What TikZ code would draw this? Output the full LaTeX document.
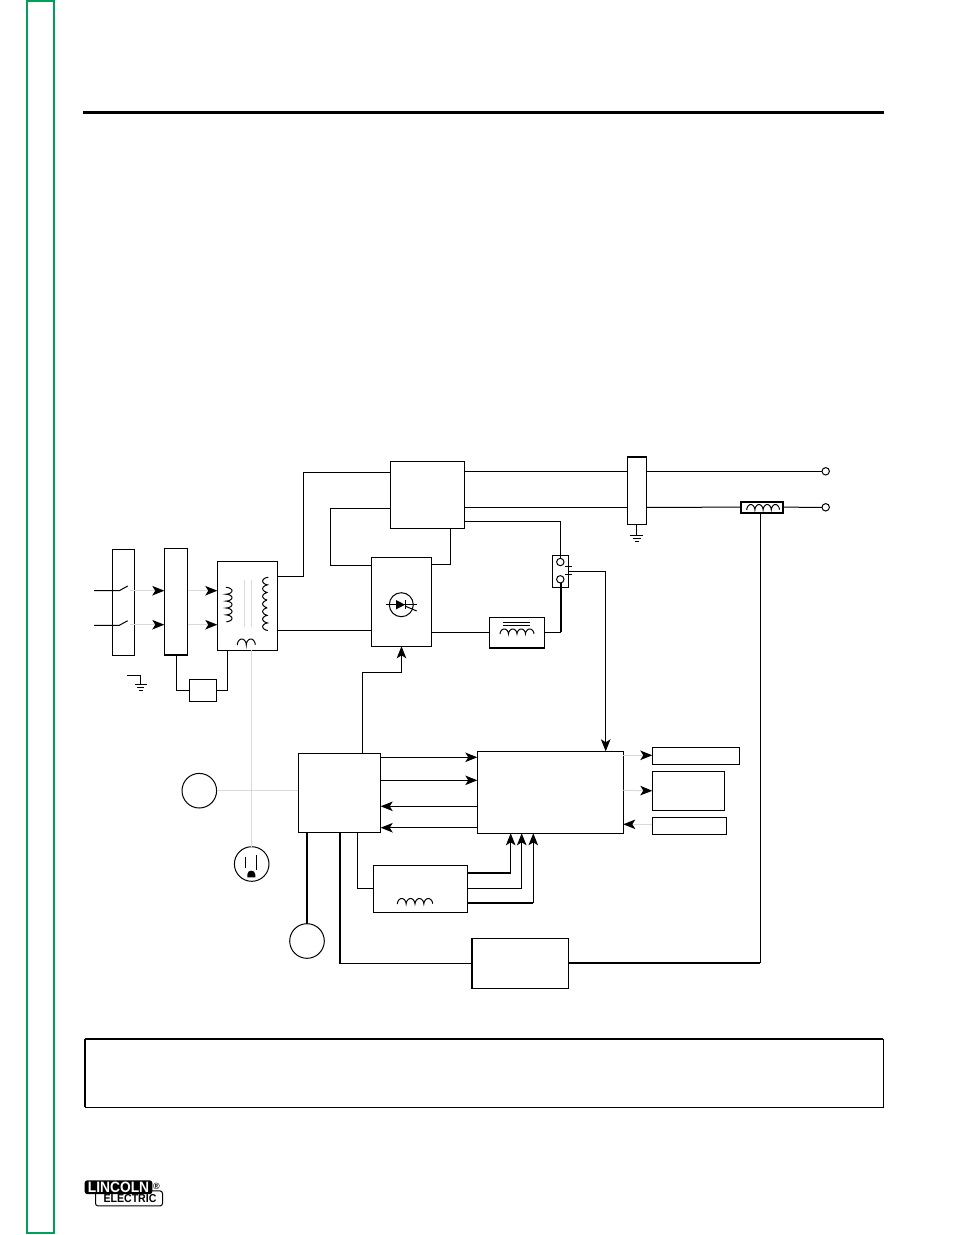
\documentclass[tikz,border=0pt]{standalone}
\usepackage{fontspec}
\setmainfont{Liberation Sans}
\usetikzlibrary{arrows.meta}
\definecolor{tabgreen}{HTML}{00A05A}
\definecolor{faint}{HTML}{D9D9D9}
\newcommand{\coilh}[5]{\draw[coil line] plot[domain=0:#5,samples=121] ({#1+\x*#3},{#2-#4*sqrt(abs(sin(180*\x)))});}
\newcommand{\coilv}[5]{\draw[coil line] plot[domain=0:#5,samples=121] ({#1+#4*sqrt(abs(sin(180*\x)))},{#2+\x*#3});}
\newcommand{\gndbars}[3]{\draw (#1-#3,#2) -- (#1+#3,#2) (#1-#3*.6,#2+3) -- (#1+#3*.6,#2+3) (#1-#3*.3,#2+6) -- (#1+#3*.3,#2+6);}
\tikzset{
  blk/.style={draw,rectangle,inner sep=0pt,outer sep=0pt,line width=1pt,fill=white},
  ring/.style={draw,circle,inner sep=0pt,outer sep=0pt,line width=1pt,fill=white},
  coil line/.style={line width=1pt},
  heavy/.style={line width=2pt},
  tip/.style={-{Stealth[length=12pt,width=9.5pt,inset=3pt,color=black]}},
  faintline/.style={faint,line width=1pt},
}
\begin{document}
\begin{tikzpicture}[x=1pt,y=-1pt,line width=1pt]
  \useasboundingbox (0,0) rectangle (954,1235);

  % page furniture
  \node[draw=tabgreen,line width=2pt,inner sep=0pt,outer sep=0pt,minimum width=27.3pt,minimum height=1232.3pt] (tab) at (40.3,617.2) {};
  \coordinate (ruleL) at (83,112.5);
  \coordinate (ruleR) at (884,112.5);
  \draw[line width=3pt] (ruleL) -- (ruleR);
  \node[blk,minimum width=798.4pt,minimum height=68.3pt] (note) at (484.2,1073.2) {};
  \draw[heavy] (note.north west) -- (note.north east);
  \draw[line width=1.5pt] (note.north west) -- (note.south west);

  % input side
  \node[blk,minimum width=22pt,minimum height=106pt] (sw) at (123.3,602.3) {};
  \node[blk,minimum width=23.4pt,minimum height=106.4pt] (recon) at (176,601.5) {};
  \node[blk,minimum width=60pt,minimum height=88.7pt] (xfmr) at (247.3,605.7) {};
  \node[blk,minimum width=27.4pt,minimum height=22pt] (cb) at (203,690.3) {};

  % power stage
  \node[blk,minimum width=74pt,minimum height=67pt] (bridge) at (427.3,494.8) {};
  \node[blk,minimum width=60.4pt,minimum height=89pt] (rect) at (401.5,601.8) {};
  \node[blk,minimum width=55.4pt,minimum height=30.7pt] (choke) at (517,632.7) {};
  \node[blk,minimum width=16.4pt,minimum height=32pt] (sel) at (560.5,571.3) {};
  \node[blk,minimum width=19pt,minimum height=67.6pt] (cap) at (636.8,490.5) {};
  \node[blk,line width=1.6pt,minimum width=42pt,minimum height=11pt] (shunt) at (761.7,507.2) {};
  \node[ring,minimum size=7.4pt] (outA) at (825.7,471.3) {};
  \node[ring,minimum size=7.4pt] (outB) at (825.7,507.3) {};
  \node[ring,minimum size=7.4pt] (selA) at (560.3,562) {};
  \node[ring,minimum size=7.4pt] (selB) at (560.3,579.3) {};

  % control stage
  \node[blk,minimum width=82.4pt,minimum height=79pt] (ctrl) at (339.5,792.8) {};
  \node[blk,minimum width=146pt,minimum height=82pt] (logic) at (550.3,792.3) {};
  \node[blk,minimum width=87.4pt,minimum height=17pt] (dispA) at (696,755.8) {};
  \node[blk,minimum width=72pt,minimum height=39pt] (dispB) at (688.3,790.8) {};
  \node[blk,minimum width=74pt,minimum height=17.4pt] (dispC) at (689.3,826) {};
  \node[blk,minimum width=94pt,minimum height=47pt] (wf) at (420.3,888.8) {};
  \node[blk,minimum width=97pt,minimum height=50pt] (fb) at (520.2,963.3) {};
  \node[ring,minimum size=34.6pt] (meterL) at (199.3,790.7) {};
  \node[ring,minimum size=34.6pt] (plug) at (251.7,864) {};
  \node[ring,minimum size=34.6pt] (meterB) at (307,941) {};

  % heavy edges of some boxes
  \draw[heavy] (recon.south west) -- (recon.south east);
  \draw[heavy] (choke.south west) -- (choke.south east);
  \draw[heavy] (cap.north west) -- (cap.north east);
  \draw[heavy] (fb.north west) -- (fb.south west);

  % switch leads
  \coordinate (leadA) at (94,590.7);
  \coordinate (leadB) at (94,625.3);
  \draw (leadA) -- (119.3,590.7) -- (127.7,586);
  \draw (leadB) -- (119.3,625.3) -- (127.7,620.7);
  \draw[faintline,tip] (130,590.7) -- (recon.west |- 0,590.7);
  \draw[faintline,tip] (130,624.7) -- (recon.west |- 0,624.7);
  \draw[faintline,tip] (recon.east |- 0,590.7) -- (xfmr.west |- 0,590.7);
  \draw[faintline,tip] (recon.east |- 0,624.7) -- (xfmr.west |- 0,624.7);
  \draw (recon.south -| 176.7,0) |- (cb.west);
  \draw (cb.east) -| (xfmr.south -| 227.3,0);

  % transformer windings
  \coilv{226}{587.3}{6.9}{6}{5}
  \coilv{268.3}{577.3}{7.6}{-5.6}{7}
  \coilh{237.3}{645}{9}{6}{2}
  \draw[faintline] (244.3,580) -- (244.3,627.3) (251.7,580) -- (251.7,627.3);

  % ground symbols
  \coordinate (gndA) at (127.3,675.3);
  \draw (gndA) -- (140.7,675.3) -- (140.7,684);
  \gndbars{140.7}{684}{6}
  \draw (cap.south -| 636.7,0) -- (636.7,535.7);
  \gndbars{636.7}{535.7}{6.5}

  % main power wiring
  \draw (xfmr.east |- 0,576) -- (303,576) -- (303,472.3) -- (bridge.west |- 0,472.3);
  \draw (xfmr.east |- 0,630.4) -- (rect.west |- 0,630.4);
  \draw (bridge.west |- 0,508.3) -- (330.5,508.3) -- (330.5,565.3) -- (rect.west |- 0,565.3);
  \draw (rect.east |- 0,564.5) -| (bridge.south -| 450.4,0);
  \draw (rect.east |- 0,632.3) -- (choke.west |- 0,632.3);
  \draw (choke.east |- 0,632.3) -- (561,632.3);
  \draw[heavy] (561,632.3) -- (selB.south -| 561,0);
  \draw (bridge.east |- 0,471.3) -- (cap.west |- 0,471.3);
  \draw (cap.east |- 0,471.3) -- (outA.west);
  \draw (bridge.east |- 0,507.3) -- (cap.west |- 0,507.3);
  \draw (cap.east |- 0,507.3) -- (shunt.west);
  \draw (shunt.east) -- (outB.west);
  \draw (bridge.east |- 0,521.3) -| (selA.north);

  % selector contacts
  \draw (565,566.3) -- (572,566.3) (565,574.3) -- (572,574.3) (568.3,566.3) -- (568.3,574.3);
  \draw[tip] (568.3,571.3) -- (605.7,571.3) -- (logic.north -| 605.7,0);

  % rectifier symbol
  \begin{scope}[shift={(401.3,604.7)}]
    \node[ring,minimum size=24pt] (scr) at (0,0) {};
    \draw (-15.3,0) -- (15.7,0);
    \fill (-5.3,-4.7) -- (-5.3,4.7) -- (3.7,0) -- cycle;
    \draw (3.7,-4.7) -- (3.7,4.7);
    \draw (3.7,1.3) -- (15.4,6.3);
  \end{scope}

  % chokes
  \coilh{500}{634}{8.5}{5}{4}
  \draw[coil line] (503.3,622.3) -- (530,622.3) (503.3,625) -- (530,625);
  \coilh{746.7}{510}{8.2}{5.5}{4}
  \coilh{397.3}{904}{8.85}{5.5}{4}

  % gate drive
  \draw[tip] (ctrl.north -| 362.3,0) |- (rect.south |- 0,672) -- (rect.south);

  % control wiring
  \draw[tip] (ctrl.east |- 0,757.3) -- (logic.west |- 0,757.3);
  \draw[tip] (ctrl.east |- 0,780.3) -- (logic.west |- 0,780.3);
  \draw[tip] (logic.west |- 0,806.3) -- (ctrl.east |- 0,806.3);
  \draw[tip] (logic.west |- 0,827.7) -- (ctrl.east |- 0,827.7);
  \draw[faintline,tip] (logic.east |- 0,755.3) -- (dispA.west |- 0,755.3);
  \draw[faintline,tip] (logic.east |- 0,790.3) -- (dispB.west);
  \draw[faintline,tip] (dispC.west |- 0,824.3) -- (logic.east |- 0,824.3);
  \draw[faintline] (meterL.east) -- (ctrl.west |- meterL.east);
  \draw[faintline] (xfmr.south -| 251.7,0) -- (plug.north);
  \draw[line width=1.8pt] (ctrl.south -| meterB.north) -- (meterB.north);
  \draw[line width=1.5pt] (ctrl.south -| 340,0) |- (fb.west |- 0,963.3);
  \draw (ctrl.south -| 357.3,0) |- (wf.west |- 0,888.3);
  \draw[line width=1.8pt] (wf.east |- 0,872.7) -- (510.7,872.7);
  \draw[tip] (510.7,872.7) -- (logic.south -| 510.7,0);
  \draw[tip] (wf.east |- 0,888.3) -| (logic.south -| 521.7,0);
  \draw[line width=1.8pt] (wf.east |- 0,903) -- (533.3,903);
  \draw[tip] (533.3,903) -- (logic.south -| 533.3,0);
  \draw[line width=1.8pt] (fb.east |- 0,962.7) -- (760.3,962.7);
  \draw (760.3,962.7) -- (shunt.south -| 760.3,0);

  % outlet face
  \draw (245.3,857.3) -- (245.3,868.3) (256.7,855.3) -- (256.7,870);
  \fill (247.3,877.3) -- (247.3,874.5) .. controls (247.3,869.3) and (255.3,869.3) .. (255.3,874.5) -- (255.3,877.3) -- cycle;

  % maker's mark
  \node[draw,line width=1pt,rounded corners=2.5pt,fill=white,inner sep=0pt,outer sep=0pt,minimum width=67pt,minimum height=15pt,font=\bfseries\fontsize{11.5}{12}\selectfont] (electric) at (129,1198.4) {\hspace{2pt}\scalebox{.92}[1]{ELECTRIC}};
  \node[fill=black,text=white,rounded corners=2.5pt,inner sep=0pt,outer sep=0pt,minimum width=67.6pt,minimum height=13.7pt,font=\bfseries\fontsize{15}{16}\selectfont] (lincoln) at (118.5,1187.2) {\scalebox{.92}[1]{LINCOLN}};
  \node[inner sep=0pt,font=\bfseries\fontsize{9}{10}\selectfont] (reg) at (156.5,1186.7) {®};
\end{tikzpicture}
\end{document}
